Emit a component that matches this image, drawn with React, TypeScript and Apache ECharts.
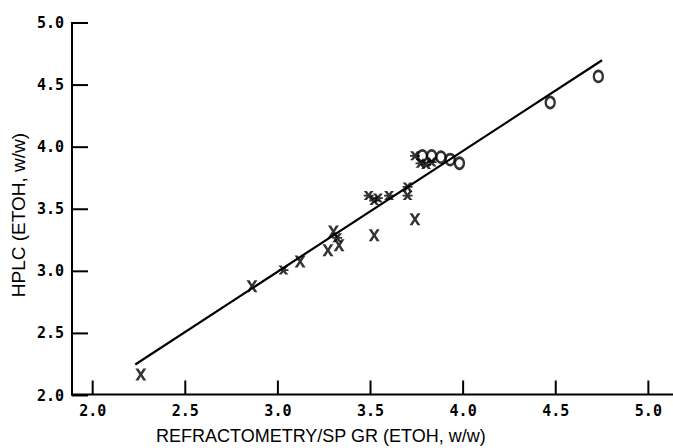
import React, { useEffect, useRef } from "react";
import * as echarts from "echarts";

// X markers
const crossX = [2.26, 2.86, 3.12, 3.27, 3.30, 3.33, 3.52, 3.74];
const crossY = [2.17, 2.88, 3.08, 3.17, 3.32, 3.21, 3.29, 3.42];
// filled asterisk-like markers
const starX = [3.03, 3.32, 3.49, 3.52, 3.54, 3.60, 3.70, 3.70, 3.74, 3.77, 3.80, 3.83];
const starY = [3.01, 3.27, 3.61, 3.57, 3.59, 3.61, 3.61, 3.68, 3.93, 3.87, 3.86, 3.88];
// O markers
const circX = [3.78, 3.83, 3.88, 3.93, 3.98, 4.47, 4.73];
const circY = [3.93, 3.93, 3.92, 3.90, 3.87, 4.36, 4.57];
// regression line end points
const lineX = [2.23, 4.75];
const lineY = [2.25, 4.70];

const xTicks = [2.0, 2.5, 3.0, 3.5, 4.0, 4.5, 5.0];
const yTicks = [2.0, 2.5, 3.0, 3.5, 4.0, 4.5, 5.0];
const xRange = [1.883, 5.133];
const yRange = [2.0, 5.0];

const xTitle = "REFRACTOMETRY/SP GR (ETOH, w/w)";
const yTitle = "HPLC (ETOH, w/w)";

const pair = (xs: number[], ys: number[]) => xs.map((x, i) => [x, ys[i]]);

const X_PATH =
  "path://M0,0L2.8,0L5,3.3L7.2,0L10,0L6.4,5L10,10L7.2,10L5,6.7L2.8,10L0,10L3.6,5Z";
const STAR_PATH =
  "path://M0,0L3.2,0L5,2.6L6.8,0L10,0L7,4L10,4L10,6L7,6L10,10L6.8,10L5,7.4L3.2,10L0,10L3,6L0,6L0,4L3,4Z";

const INK = "#000";

export default function App() {
  const ref = useRef<HTMLDivElement>(null);
  useEffect(() => {
    if (!ref.current) return;
    const chart = echarts.init(ref.current, undefined, { renderer: "svg" });
    const labelFont = {
      fontFamily: "DejaVu Sans Mono",
      fontWeight: "bold" as const,
      fontSize: 15,
      color: "#000",
    };
    chart.setOption({
      animation: false,
      backgroundColor: "#fff",
      grid: { left: 71, right: 0, top: 23, bottom: 52.5 },
      xAxis: {
        type: "value",
        min: xRange[0],
        max: xRange[1],
        splitLine: { show: false },
        axisLine: { show: false },
        axisTick: { show: false },
        axisLabel: {
          ...labelFont,
          margin: 8,
          customValues: xTicks,
          formatter: (v: number) => v.toFixed(1),
        },
      },
      yAxis: {
        type: "value",
        min: yRange[0],
        max: yRange[1],
        interval: 0.5,
        splitLine: { show: false },
        axisLine: { show: false },
        axisTick: { show: false },
        axisLabel: {
          ...labelFont,
          margin: 7,
          customValues: yTicks,
          formatter: (v: number) => v.toFixed(1),
        },
      },
      graphic: [
        {
          type: "text",
          left: 156,
          top: 427,
          style: {
            text: xTitle,
            fontFamily: "Liberation Sans",
            fontSize: 18,
            fill: "#000",
          },
        },
        {
          type: "text",
          x: 18,
          y: 215,
          rotation: Math.PI / 2,
          style: {
            text: yTitle,
            fontFamily: "Liberation Sans",
            fontSize: 19,
            fill: "#000",
            align: "center",
            verticalAlign: "middle",
          },
        },
      ],
      series: [
        {
          // axis frame drawn as filled bars
          type: "custom",
          clip: false,
          silent: true,
          data: [[xRange[0], yRange[0]]],
          renderItem: (_p: any, api: any) => {
            const top = api.coord([xRange[0], yRange[1]]);
            const corner = api.coord([xRange[0], yRange[0]]);
            const right = api.coord([xRange[1], yRange[0]]);
            return {
              type: "group",
              children: [
                {
                  type: "rect",
                  shape: { x: corner[0], y: top[1] - 1, width: 2, height: corner[1] - top[1] + 1 },
                  style: { fill: INK },
                },
                {
                  type: "rect",
                  shape: { x: corner[0], y: corner[1] - 2, width: right[0] - corner[0], height: 2 },
                  style: { fill: INK },
                },
              ],
            };
          },
          z: 3,
        },
        {
          // x ticks (inside)
          type: "custom",
          clip: false,
          silent: true,
          data: xTicks.map((v) => [v]),
          renderItem: (_p: any, api: any) => {
            const p = api.coord([api.value(0), yRange[0]]);
            return {
              type: "rect",
              shape: { x: p[0] - 1, y: p[1] - 15, width: 2, height: 14 },
              style: { fill: INK },
            };
          },
          z: 3,
        },
        {
          // y ticks (inside)
          type: "custom",
          clip: false,
          silent: true,
          data: yTicks.map((v) => [xRange[0], v]),
          renderItem: (_p: any, api: any) => {
            const p = api.coord([xRange[0], api.value(1)]);
            return {
              type: "rect",
              shape: { x: p[0] + 1, y: p[1] - 1, width: 16, height: 2 },
              style: { fill: INK },
            };
          },
          z: 3,
        },
        {
          type: "line",
          data: pair(lineX, lineY),
          symbol: "none",
          lineStyle: { color: "#000", width: 2.2 },
          z: 1,
        },
        {
          type: "scatter",
          data: pair(crossX, crossY),
          symbol: X_PATH,
          symbolSize: [11, 12],
          itemStyle: { color: "#000" },
          z: 2,
        },
        {
          type: "scatter",
          data: pair(starX, starY),
          symbol: STAR_PATH,
          symbolSize: [10, 9],
          itemStyle: { color: "#000" },
          z: 2,
        },
        {
          type: "scatter",
          data: pair(circX, circY),
          symbol: "circle",
          symbolSize: [9, 11],
          itemStyle: { color: "rgba(0,0,0,0)", borderColor: "#000", borderWidth: 2.5 },
          z: 2,
        },
      ],
    });
    return () => chart.dispose();
  }, []);
  return (
    <div
      ref={ref}
      style={{ position: "absolute", left: 0, top: 0, width: 673, height: 448 }}
    />
  );
}
